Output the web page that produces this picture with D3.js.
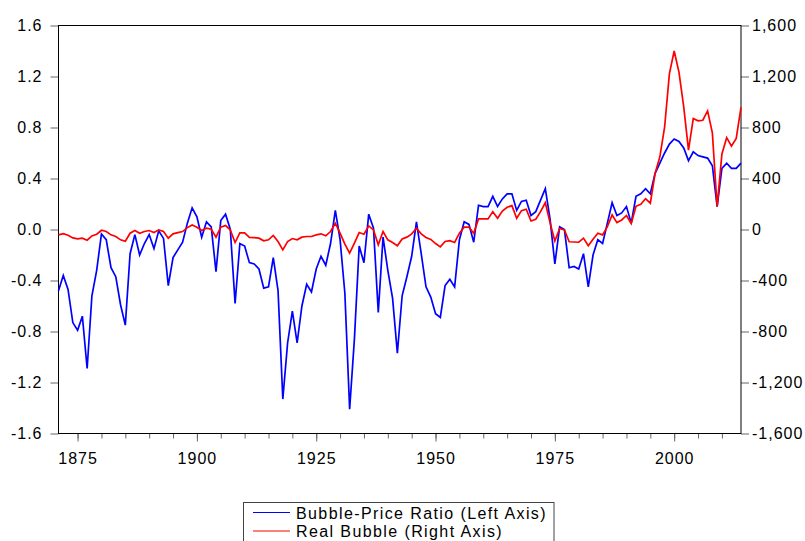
<!DOCTYPE html>
<html>
<head>
<meta charset="utf-8">
<script src="https://cdn.jsdelivr.net/npm/d3@7"></script>
<style>
  html, body { margin: 0; padding: 0; background: #fff; }
  svg text { font-family: "Liberation Sans", Arial, sans-serif; }
</style>
</head>
<body>
<svg id="chart" width="805" height="541"></svg>
<script>
// Annual observations, 1871-2014
const years = d3.range(1871, 2015);

// Bubble-price ratio (left axis)
const ratio = [
  -0.48, -0.36, -0.47, -0.73, -0.79, -0.68, -1.09, -0.52, -0.32, -0.035,
  -0.08, -0.30, -0.37, -0.59, -0.75, -0.19, -0.04, -0.20, -0.11, -0.04,
  -0.15, -0.01, -0.07, -0.44, -0.22, -0.16, -0.10, 0.05, 0.17, 0.10,
  -0.06, 0.06, 0.02, -0.33, 0.07, 0.12, 0.00, -0.58, -0.11, -0.13,
  -0.26, -0.27, -0.31, -0.46, -0.45, -0.22, -0.48, -1.33, -0.89, -0.64,
  -0.89, -0.60, -0.43, -0.49, -0.31, -0.21, -0.28, -0.11, 0.15, -0.08,
  -0.50, -1.41, -0.86, -0.13, -0.26, 0.12, 0.01, -0.65, -0.06, -0.32,
  -0.54, -0.97, -0.52, -0.37, -0.21, 0.06, -0.19, -0.45, -0.53, -0.66,
  -0.69, -0.44, -0.39, -0.45, -0.08, 0.06, 0.04, -0.10, 0.19, 0.18,
  0.18, 0.26, 0.18, 0.24, 0.28, 0.28, 0.15, 0.22, 0.23, 0.11,
  0.14, 0.23, 0.32, 0.08, -0.27, 0.02, 0.00, -0.30, -0.29, -0.31,
  -0.19, -0.45, -0.20, -0.08, -0.11, 0.05, 0.21, 0.11, 0.13, 0.18,
  0.05, 0.26, 0.28, 0.32, 0.28, 0.44, 0.52, 0.60, 0.67, 0.71,
  0.69, 0.64, 0.54, 0.61, 0.58, 0.57, 0.56, 0.50, 0.18, 0.48,
  0.52, 0.48, 0.48, 0.52
];

// Real bubble (right axis)
const realBubble = [
  -42, -32, -45, -66, -74, -68, -84, -50, -37, -6,
  -16, -42, -55, -81, -92, -29, -8, -29, -16, -8,
  -24, -3, -16, -68, -34, -24, -16, 15, 36, 18,
  -8, 10, 2, -60, 18, 31, -3, -102, -27, -27,
  -62, -63, -68, -89, -81, -47, -94, -160, -94, -71,
  -81, -60, -55, -55, -42, -34, -50, -16, 49, -29,
  -115, -185, -107, -24, -37, 28, -3, -120, -16, -81,
  -102, -128, -74, -60, -34, 10, -34, -63, -78, -110,
  -136, -94, -87, -102, -29, 18, 18, -29, 83, 83,
  83, 140, 88, 145, 174, 187, 88, 148, 159, 67,
  80, 140, 210, 52, -90, 8, -3, -96, -98, -100,
  -68, -128, -76, -29, -42, 23, 114, 54, 75, 110,
  47, 182, 198, 242, 206, 440, 570, 805, 1222, 1400,
  1235, 962, 623, 870, 852, 857, 930, 758, 180, 592,
  720, 654, 714, 957
];

// Axis ticks
const leftTicks = [-1.6, -1.2, -0.8, -0.4, 0.0, 0.4, 0.8, 1.2, 1.6];
const rightTicks = [-1600, -1200, -800, -400, 0, 400, 800, 1200, 1600];
const yearLabels = [1875, 1900, 1925, 1950, 1975, 2000];
const yearMinor = d3.range(1875, 2015, 5);

const seriesNames = ["Bubble-Price Ratio (Left Axis)", "Real Bubble (Right Axis)"];
const seriesColors = ["#0000ff", "#ff0000"];

const svg = d3.select("#chart");
const plotLeft = 58.5, plotRight = 741, plotTop = 25.5, plotBottom = 433.5;

const locale = d3.formatLocale({decimal: ".", thousands: ",", grouping: [3], currency: ["$", ""], minus: "-"});
const fmtLeft = locale.format(".1f");
const fmtRight = locale.format(",.0f");

const x = d3.scaleLinear().domain([1871, 2014]).range([plotLeft, plotRight]);
const yL = d3.scaleLinear().domain([-1.6, 1.6]).range([plotBottom, plotTop]);
const yR = d3.scaleLinear().domain([-1600, 1600]).range([plotBottom, plotTop]);

const tickColor = "#666";
const fontSize = "16px";

// Bottom axis: minor ticks every 5 years, labelled ticks every 25
const xMinor = svg.append("g").attr("transform", `translate(0,${plotBottom})`)
  .call(d3.axisBottom(x).tickValues(yearMinor).tickSize(5).tickSizeOuter(0).tickFormat(""));
const xMajor = svg.append("g").attr("transform", `translate(0,${plotBottom})`)
  .call(d3.axisBottom(x).tickValues(yearLabels).tickSize(8).tickSizeOuter(0).tickPadding(11).tickFormat(d3.format("d")));

const yLeft = svg.append("g").attr("transform", `translate(${plotLeft},0)`)
  .call(d3.axisLeft(yL).tickValues(leftTicks).tickSize(8).tickSizeOuter(0).tickPadding(8).tickFormat(fmtLeft));
const yRight = svg.append("g").attr("transform", `translate(${plotRight},0)`)
  .call(d3.axisRight(yR).tickValues(rightTicks).tickSize(8).tickSizeOuter(0).tickPadding(3).tickFormat(fmtRight));

[xMinor, xMajor, yLeft, yRight].forEach(g => {
  g.select(".domain").remove();
  g.selectAll(".tick line").attr("stroke", tickColor);
  g.selectAll(".tick text")
    .attr("fill", "#000")
    .style("font-size", fontSize)
    .style("letter-spacing", "1px")
    .style("font-family", "'Liberation Sans', Arial, sans-serif");
});

// Frame around the plot area
svg.append("rect")
  .attr("x", plotLeft).attr("y", plotTop)
  .attr("width", plotRight - plotLeft).attr("height", plotBottom - plotTop)
  .attr("fill", "none").attr("stroke", "#000").attr("stroke-width", 1);

const plot = svg.append("g");

const lineL = d3.line().x((d, i) => x(years[i])).y(d => yL(d));
const lineR = d3.line().x((d, i) => x(years[i])).y(d => yR(d));

plot.append("path").datum(ratio)
  .attr("d", lineL).attr("fill", "none")
  .attr("stroke", seriesColors[0]).attr("stroke-width", 1.7).attr("stroke-linejoin", "miter");

plot.append("path").datum(realBubble)
  .attr("d", lineR).attr("fill", "none")
  .attr("stroke", seriesColors[1]).attr("stroke-width", 1.7).attr("stroke-linejoin", "miter");

// Legend
const legend = svg.append("g");
legend.append("rect")
  .attr("x", 243.5).attr("y", 502.5).attr("width", 310.5).attr("height", 42)
  .attr("fill", "#fff").attr("stroke", "#444").attr("stroke-width", 1);

seriesNames.forEach((name, i) => {
  const cy = 512.5 + i * 18.5;
  legend.append("line")
    .attr("x1", 253).attr("x2", 290).attr("y1", cy).attr("y2", cy)
    .attr("stroke", seriesColors[i]).attr("stroke-width", 1.2);
  legend.append("text")
    .attr("x", 296).attr("y", cy + 6)
    .style("font-size", fontSize)
    .style("letter-spacing", "1.4px")
    .text(name);
});
</script>
</body>
</html>
